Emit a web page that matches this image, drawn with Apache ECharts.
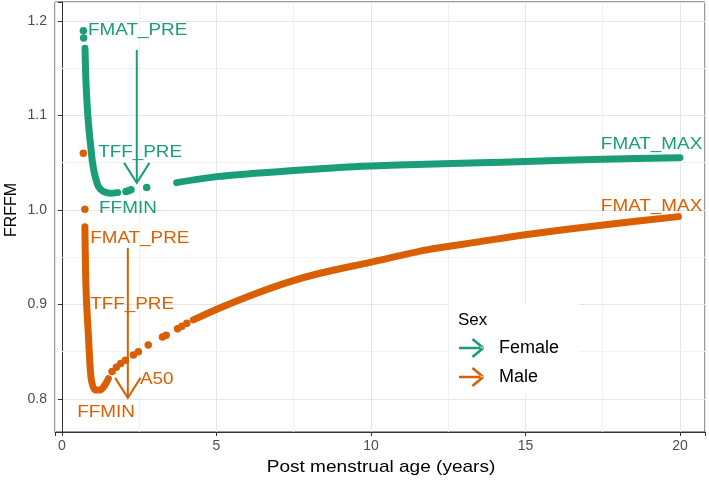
<!DOCTYPE html>
<html>
<head>
<meta charset="utf-8">
<script src="https://cdn.jsdelivr.net/npm/echarts@6/dist/echarts.min.js"></script>
<style>
html,body{margin:0;padding:0;background:#fff;}
#chart{width:709px;height:481px;}
</style>
</head>
<body>
<div id="chart"></div>
<script>
// ---------------- data ----------------
const sexes = ['Female', 'Male'];
const colors = ['#1B9E77', '#D95F02'];

// continuous stretches of densely packed points (age in years, FRFFM)
const femaleSeg1 = [[0.744,1.1711],[0.777,1.1341],[0.83,1.1023],[0.885,1.0812],[0.93,1.067],[0.99,1.0494],[1.07,1.0358],[1.18,1.0247],[1.34,1.0194],[1.55,1.0177],[1.8,1.0183]];
const femaleSeg2 = [[3.71,1.0289],[5.0,1.0352],[6.25,1.0387],[7.5,1.0416],[8.75,1.0443],[10.0,1.0464],[11.75,1.0483],[13.5,1.0499],[15.0,1.0512],[17.5,1.0536],[20.0,1.0553]];
// isolated points
const femaleDots = [[0.69,1.1897],[0.70,1.182],[2.07,1.0194],[2.15,1.0203],[2.23,1.0213],[2.74,1.0238]];

const maleSeg1 = [[0.74,0.9823],[0.76,0.94],[0.79,0.905],[0.85,0.8695],[0.91,0.834],[0.96,0.8183],[1.07,0.8095],[1.23,0.8095],[1.39,0.8148],[1.5,0.8215]];
const maleSeg2 = [[4.25,0.8836],[5.22,0.8977],[6.3,0.9118],[7.38,0.9241],[8.35,0.933],[9.97,0.9445],[11.8,0.9577],[13.53,0.9664],[14.93,0.9735],[17.52,0.9841],[19.95,0.9929]];
const maleDots = [[0.69,1.060],[0.74,1.0007],[1.62,0.829],[1.76,0.8335],[1.9,0.8375],[2.05,0.841],[2.31,0.8466],[2.47,0.850],[2.79,0.8571],[3.25,0.8655],[3.37,0.8675],[3.74,0.8742],[3.88,0.8768],[4.04,0.880]];

// annotation labels: [age, FRFFM]
const femaleLabelText = ['FMAT_PRE','TFF_PRE','FFMIN','FMAT_MAX'];
const femaleLabelPos = [[0.84,1.1894],[1.17,1.0603],[1.2,1.001],[17.44,1.0688]];
const maleLabelText = ['FMAT_PRE','TFF_PRE','A50','FFMIN','FMAT_MAX'];
const maleLabelPos = [[0.91,0.9693],[0.91,0.8995],[2.52,0.82],[0.49,0.7852],[17.44,1.0037]];
// arrows: [age, from FRFFM, to FRFFM]
const femaleArrow = [[2.42,1.1693,1.0286]];
const maleArrow = [[2.13,0.9598,0.8011]];

const xTicks = [0,5,10,15,20];
const xMinor = [2.5,7.5,12.5,17.5];
const yMinor = [0.85,0.95,1.05,1.15];

// ---------------- chart ----------------
const FONT = 'Liberation Sans, Arial, sans-serif';
const chart = echarts.init(document.getElementById('chart'), null, {renderer:'canvas'});

const arrowIcon = 'path://M0,8.5L26,8.5L26,11.5L0,11.5Z M27.96,8.85L15.96,-1.15L14.04,1.15L26.04,11.15Z M27.96,11.15L15.96,21.15L14.04,18.85L26.04,8.85Z';

function lineSeries(name, color, data){
  return {type:'line', name, data, smooth:0.3, showSymbol:false, symbol:'none',
    lineStyle:{color, width:7, cap:'round', join:'round'}, itemStyle:{color}, z:3, silent:true};
}
function dotSeries(name, color, data){
  return {type:'scatter', name, data, symbolSize:7.5, itemStyle:{color, opacity:1}, z:3, silent:true};
}
function labelSeries(color, texts, pos){
  return {type:'custom', data:pos, clip:false, z:5, silent:true,
    renderItem:function(params, api){
      const p = api.coord([api.value(0), api.value(1)]);
      return {type:'text', x:p[0], y:p[1], scaleX:1.18,
        style:{text:texts[params.dataIndex], fill:color, fontSize:16, fontFamily:FONT,
               align:'left', verticalAlign:'middle'}};
    }};
}
function arrowSeries(color, arr){
  return {type:'custom', data:arr, clip:false, z:4, silent:true,
    renderItem:function(params, api){
      const a = api.coord([api.value(0), api.value(1)]);
      const b = api.coord([api.value(0), api.value(2)]);
      return {type:'group', children:[
        {type:'line', shape:{x1:a[0],y1:a[1],x2:b[0],y2:b[1]}, style:{stroke:color, lineWidth:2}},
        {type:'polyline', shape:{points:[[b[0]-12.7,b[1]-20],[b[0],b[1]],[b[0]+12.7,b[1]-20]]},
          style:{stroke:color, lineWidth:2, fill:null}}
      ]};
    }};
}

const gridMarks = {type:'line', name:'_grid', data:[], z:1, silent:true,
  markLine:{silent:true, z:1, symbol:'none', label:{show:false}, animation:false,
    lineStyle:{color:'#F1F1F1', width:1, type:'solid'},
    data: xMinor.map(v=>({xAxis:v})).concat(yMinor.map(v=>({yAxis:v})))}};

const isMult = (v, step) => Math.abs(v/step - Math.round(v/step)) < 1e-6;

const option = {
  animation:false,
  backgroundColor:'#fff',
  grid:{left:55, right:4, top:2, bottom:49, outerBoundsMode:'none', containLabel:false,
    show:true, borderColor:'#333', borderWidth:1, backgroundColor:'transparent'},
  xAxis:{type:'value', min:-0.227, max:20.81, splitNumber:4, minInterval:5, maxInterval:5,
    axisLine:{show:true, lineStyle:{color:'#333', width:1}},
    axisTick:{show:true, length:4, lineStyle:{color:'#333'}},
    axisLabel:{color:'#4D4D4D', fontSize:14, fontFamily:FONT, margin:7,
      formatter:v=> (isMult(v,5) && xTicks.indexOf(Math.round(v))>=0) ? String(Math.round(v)) : ''},
    splitLine:{show:true, lineStyle:{color:'#E6E6E6', width:1}}},
  yAxis:{type:'value', min:0.765, max:1.220, splitNumber:4, minInterval:0.1, maxInterval:0.1,
    axisLine:{show:true, lineStyle:{color:'#333', width:1}},
    axisTick:{show:true, length:4, lineStyle:{color:'#333'}},
    axisLabel:{color:'#4D4D4D', fontSize:14, fontFamily:FONT, margin:8,
      formatter:v=> isMult(v,0.1) ? v.toFixed(1) : ''},
    splitLine:{show:true, lineStyle:{color:'#E6E6E6', width:1}}},
  legend:{show:true, orient:'vertical', left:449, top:304, width:124,
    padding:[34,20,8,10], backgroundColor:'#fff', itemWidth:27, itemHeight:20, itemGap:9,
    textStyle:{color:'#000', fontSize:18, fontFamily:FONT, padding:[0,0,0,9]},
    data:[{name:'Female', icon:arrowIcon, itemStyle:{color:colors[0]}},
          {name:'Male', icon:arrowIcon, itemStyle:{color:colors[1]}}],
    selectedMode:false, z:10},
  graphic:[
    {type:'text', x:458, y:320, z:100, style:{text:'Sex', fill:'#000', fontSize:17, fontFamily:FONT, align:'left', verticalAlign:'middle'}},
    {type:'text', x:381, y:467, scaleX:1.12, z:100, style:{text:'Post menstrual age (years)', fill:'#000', fontSize:17, fontFamily:FONT, align:'center', verticalAlign:'middle'}},
    {type:'text', x:12, y:210, rotation:Math.PI/2, z:100, style:{text:'FRFFM', fill:'#000', fontSize:16, fontFamily:FONT, align:'center', verticalAlign:'middle'}}
  ],
  series:[
    gridMarks,
    lineSeries('Female', colors[0], femaleSeg1),
    lineSeries('Female', colors[0], femaleSeg2),
    dotSeries('Female', colors[0], femaleDots),
    lineSeries('Male', colors[1], maleSeg1),
    lineSeries('Male', colors[1], maleSeg2),
    dotSeries('Male', colors[1], maleDots),
    arrowSeries(colors[0], femaleArrow),
    arrowSeries(colors[1], maleArrow),
    labelSeries(colors[0], femaleLabelText, femaleLabelPos),
    labelSeries(colors[1], maleLabelText, maleLabelPos)
  ]
};
chart.setOption(option);
</script>
</body>
</html>
